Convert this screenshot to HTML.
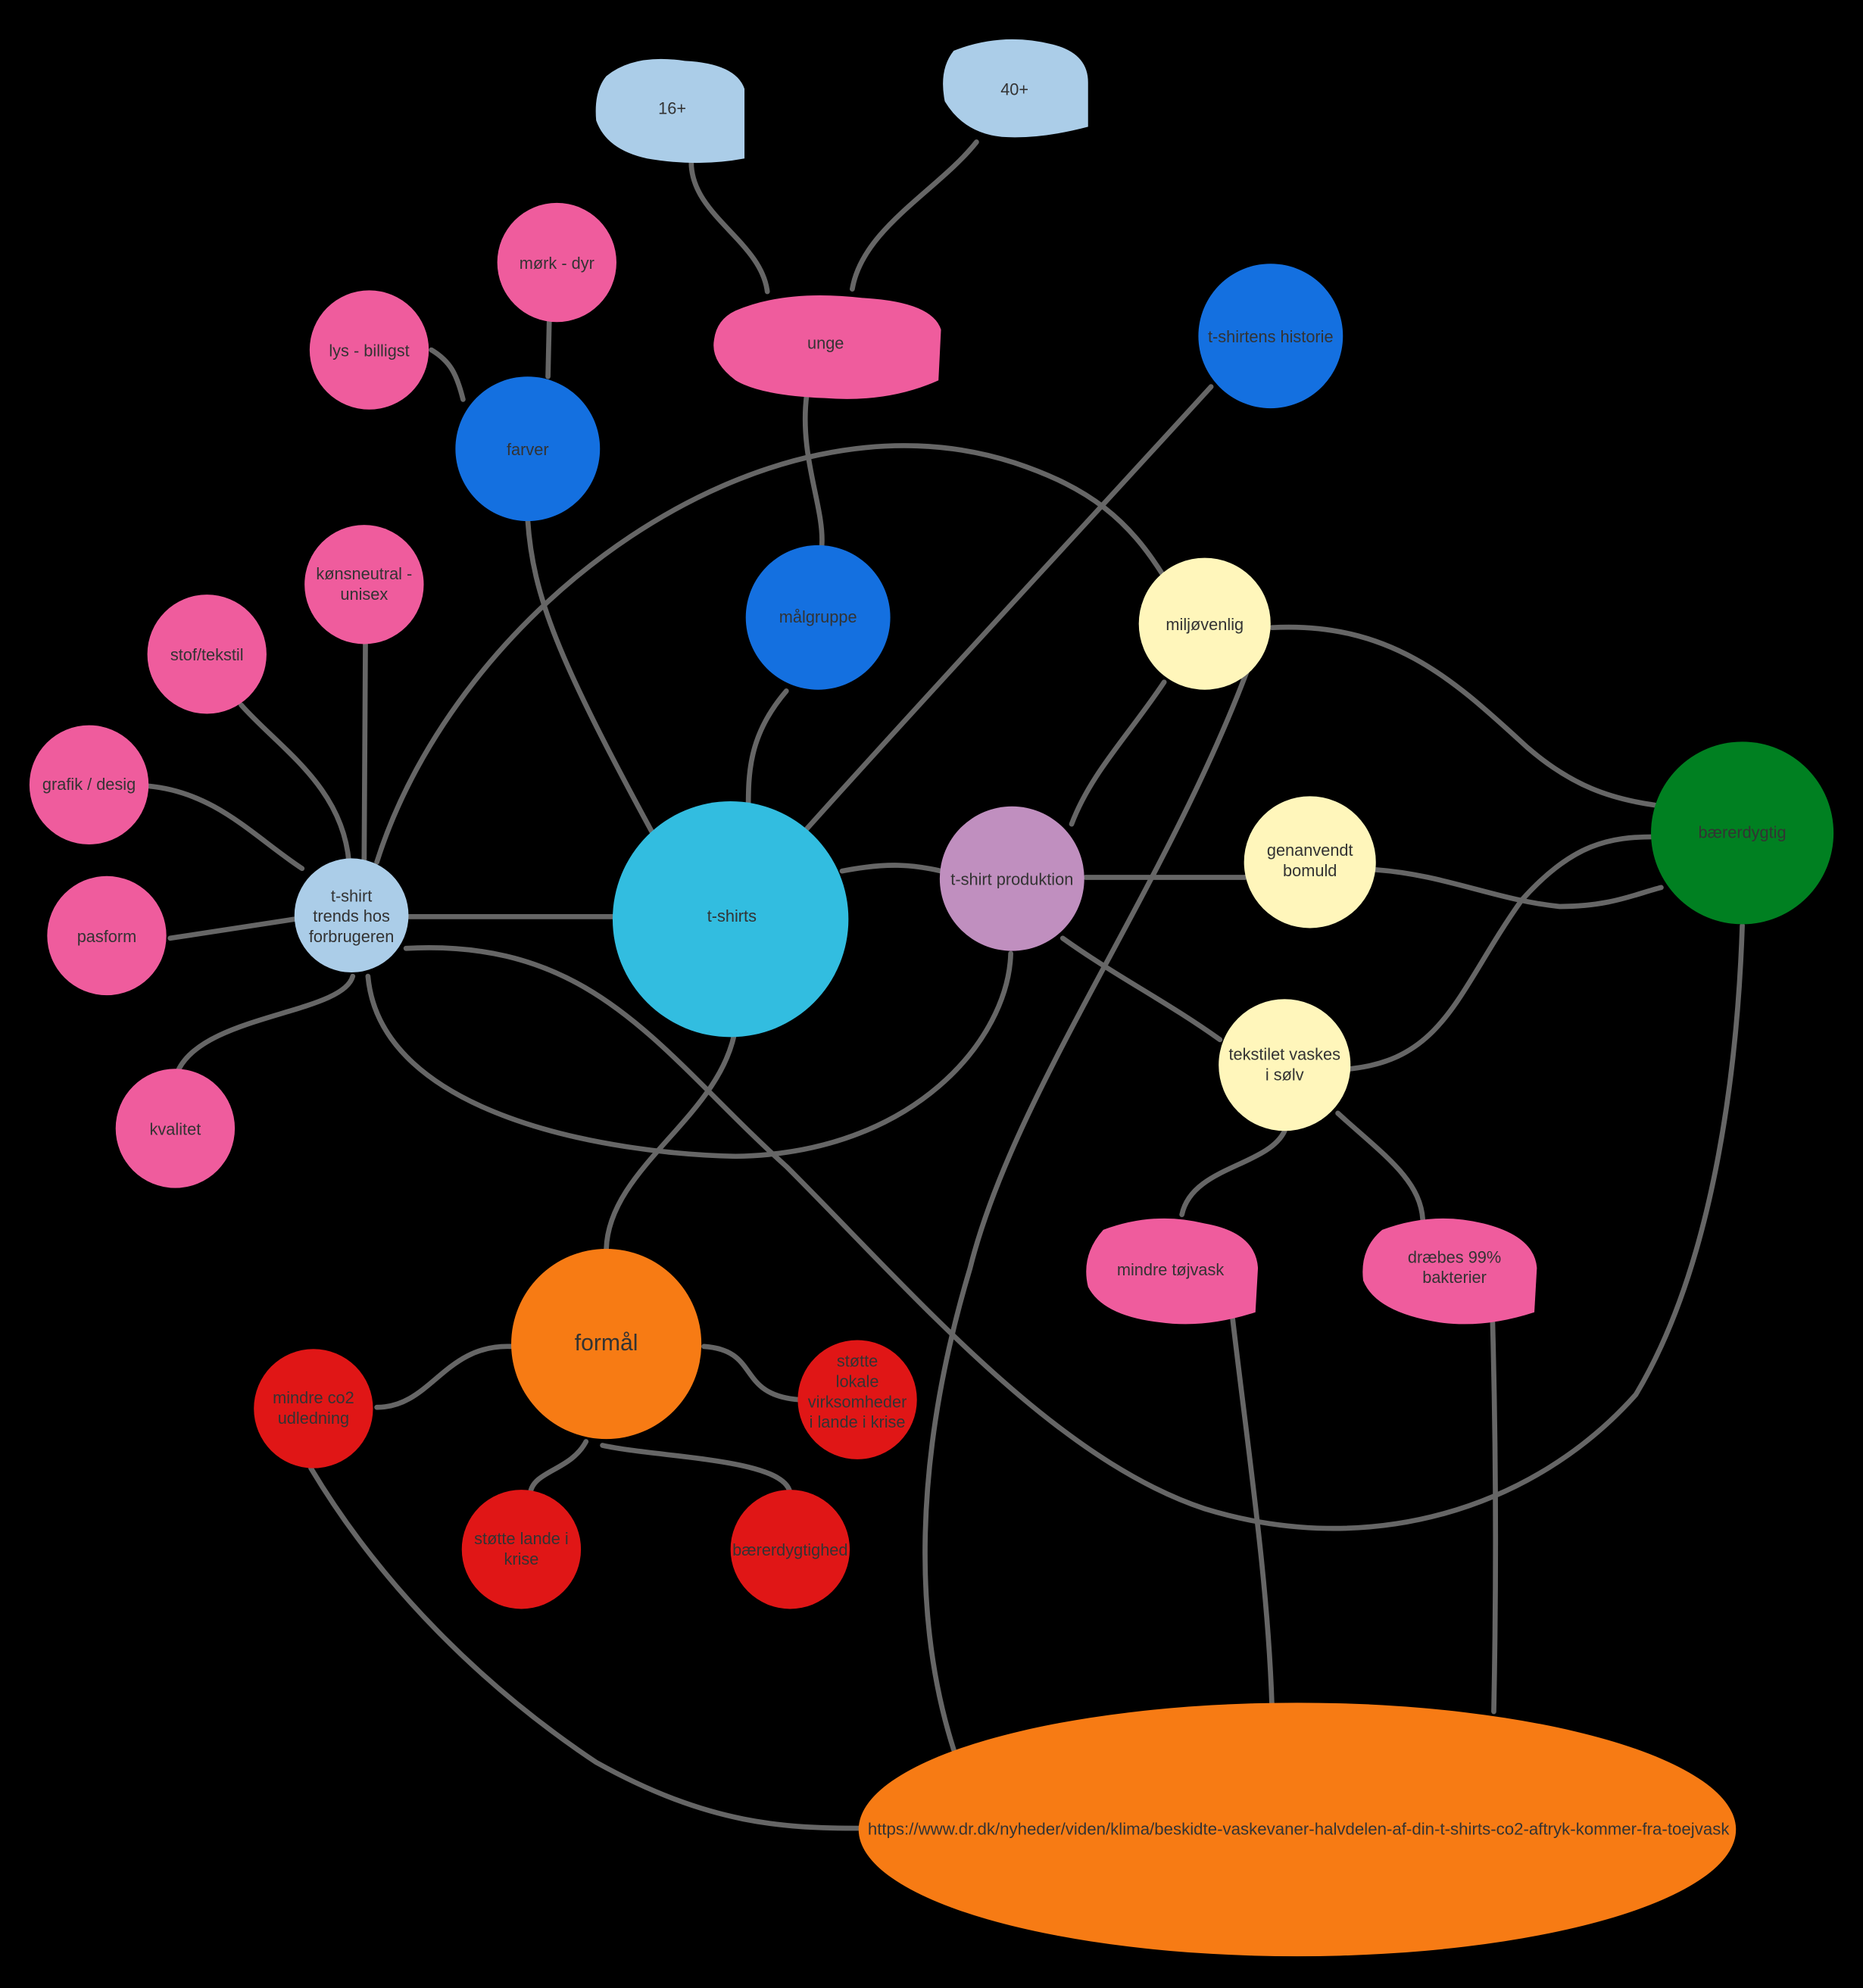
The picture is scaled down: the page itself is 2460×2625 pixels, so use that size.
<!DOCTYPE html>
<html><head><meta charset="utf-8"><style>
html,body{margin:0;padding:0;background:#000;}
svg{display:block}
text{font-family:"Liberation Sans",sans-serif;fill:#333;text-anchor:middle;font-size:13px}
</style></head><body>
<svg width="2460" height="2625" viewBox="0 0 1469 1568" xmlns="http://www.w3.org/2000/svg">
<rect width="1469" height="1568" fill="#000"/>
<g fill="none" stroke="#666" stroke-width="4" stroke-linecap="round">
<path d="M545 128 C545 170 600 190 605 230"/>
<path d="M770 112 C740 150 680 180 672 228"/>
<path d="M433 253 L432 297"/>
<path d="M340 276 C355 285 360 295 365 315"/>
<path d="M636 312 C630 360 650 400 648 430"/>
<path d="M416 410 C420 470 440 520 515 658"/>
<path d="M620 545 C590 580 590 610 590 640"/>
<path d="M955 305 C850 420 720 560 635 655"/>
<path d="M297 680 C360 480 600 300 800 365 C860 385 890 410 918 455"/>
<path d="M288 508 L287 678"/>
<path d="M190 556 C220 590 270 620 275 680"/>
<path d="M117 620 C170 625 200 660 238 685"/>
<path d="M134 740 L232 725"/>
<path d="M278 770 C270 800 160 800 140 845"/>
<path d="M322 723 L485 723"/>
<path d="M664 687 C700 680 720 682 742 687"/>
<path d="M856 692 L982 692"/>
<path d="M918 538 C890 580 860 610 845 650"/>
<path d="M838 740 C880 770 920 790 962 820"/>
<path d="M1003 495 C1100 490 1150 540 1205 590 C1240 620 1270 630 1305 635"/>
<path d="M1085 686 C1140 690 1180 710 1230 715 C1270 715 1290 705 1310 700"/>
<path d="M1065 843 C1140 835 1150 780 1200 710 C1240 665 1270 660 1305 660"/>
<path d="M290 770 C300 880 480 910 580 912 C720 910 795 820 797 752"/>
<path d="M580 810 C570 880 480 920 478 985"/>
<path d="M320 748 C470 740 520 830 620 920 C720 1020 830 1150 950 1190 C1080 1230 1210 1190 1290 1100 C1350 1000 1370 850 1374 730"/>
<path d="M985 525 C920 700 800 860 765 1000 C720 1150 720 1280 752 1380"/>
<path d="M1013 892 C1000 920 940 920 932 958"/>
<path d="M1055 878 C1090 910 1120 930 1122 962"/>
<path d="M972 1040 C985 1150 1000 1250 1003 1345"/>
<path d="M1177 1040 C1180 1150 1180 1250 1178 1350"/>
<path d="M403 1062 C350 1060 340 1110 297 1110"/>
<path d="M555 1062 C600 1065 580 1100 630 1104"/>
<path d="M462 1137 C450 1160 420 1160 418 1178"/>
<path d="M475 1140 C520 1150 620 1150 623 1178"/>
<path d="M245 1158 C300 1250 380 1330 470 1390 C560 1440 620 1442 680 1442"/>
</g>
<g fill="#abcde8">
<path d="M478 60 Q500 42 540 48 Q580 50 587 70 L587 125 Q550 132 510 125 Q478 118 470 95 Q468 72 478 60Z"/>
<path d="M752 40 Q790 25 830 35 Q858 42 858 65 L858 100 Q820 110 790 108 Q760 105 745 80 Q740 55 752 40Z"/>
</g>
<g fill="#ef5c9d">
<path d="M580 245 Q620 228 680 235 Q735 238 742 260 L740 300 Q700 318 650 314 Q600 312 580 300 Q560 285 563 268 Q565 252 580 245Z"/>
<path d="M870 970 Q910 955 950 965 Q990 972 992 1000 L990 1035 Q950 1048 915 1043 Q870 1038 858 1015 Q852 990 870 970Z"/>
<path d="M1090 970 Q1130 955 1170 965 Q1210 975 1212 1000 L1210 1035 Q1170 1048 1135 1043 Q1085 1035 1075 1010 Q1072 985 1090 970Z"/>
</g>
<g>
<circle cx="439" cy="207" r="47" fill="#ef5c9d"/>
<circle cx="291" cy="276" r="47" fill="#ef5c9d"/>
<circle cx="416" cy="354" r="57" fill="#1470e0"/>
<circle cx="1002" cy="265" r="57" fill="#1470e0"/>
<circle cx="645" cy="487" r="57" fill="#1470e0"/>
<circle cx="950" cy="492" r="52" fill="#fff6bb"/>
<circle cx="287" cy="461" r="47" fill="#ef5c9d"/>
<circle cx="163" cy="516" r="47" fill="#ef5c9d"/>
<circle cx="70" cy="619" r="47" fill="#ef5c9d"/>
<circle cx="84" cy="738" r="47" fill="#ef5c9d"/>
<circle cx="138" cy="890" r="47" fill="#ef5c9d"/>
<circle cx="277" cy="722" r="45" fill="#abcde8"/>
<circle cx="576" cy="725" r="93" fill="#32bde0"/>
<circle cx="798" cy="693" r="57" fill="#c08fbf"/>
<circle cx="1033" cy="680" r="52" fill="#fff6bb"/>
<circle cx="1374" cy="657" r="72" fill="#008021"/>
<circle cx="1013" cy="840" r="52" fill="#fff6bb"/>
<circle cx="478" cy="1060" r="75" fill="#f77b14"/>
<circle cx="247" cy="1111" r="47" fill="#e01616"/>
<circle cx="676" cy="1104" r="47" fill="#e01616"/>
<circle cx="411" cy="1222" r="47" fill="#e01616"/>
<circle cx="623" cy="1222" r="47" fill="#e01616"/>
<ellipse cx="1023" cy="1443" rx="346" ry="100" fill="#f77b14"/>
</g>
<g>
<text x="530" y="90">16+</text>
<text x="800" y="75">40+</text>
<text x="439" y="212">mørk - dyr</text>
<text x="291" y="281">lys - billigst</text>
<text x="416" y="359">farver</text>
<text x="651" y="275">unge</text>
<text x="1002" y="270">t-shirtens historie</text>
<text x="645" y="491">målgruppe</text>
<text x="950" y="497">miljøvenlig</text>
<text x="287" y="457">kønsneutral -</text><text x="287" y="473">unisex</text>
<text x="163" y="521">stof/tekstil</text>
<text x="70" y="623">grafik / desig</text>
<text x="84" y="743">pasform</text>
<text x="138" y="895">kvalitet</text>
<text x="277" y="711">t-shirt</text><text x="277" y="727">trends hos</text><text x="277" y="743">forbrugeren</text>
<text x="577" y="727">t-shirts</text>
<text x="798" y="698">t-shirt produktion</text>
<text x="1033" y="675">genanvendt</text><text x="1033" y="691">bomuld</text>
<text x="1374" y="661">bærerdygtig</text>
<text x="1013" y="836">tekstilet vaskes</text><text x="1013" y="852">i sølv</text>
<text x="923" y="1006">mindre tøjvask</text>
<text x="1147" y="996">dræbes 99%</text><text x="1147" y="1012">bakterier</text>
<text x="478" y="1065" style="font-size:18px">formål</text>
<text x="247" y="1107">mindre co2</text><text x="247" y="1123">udledning</text>
<text x="676" y="1078">støtte</text><text x="676" y="1094">lokale</text><text x="676" y="1110">virksomheder</text><text x="676" y="1126">i lande i krise</text>
<text x="411" y="1218">støtte lande i</text><text x="411" y="1234">krise</text>
<text x="623" y="1227">bærerdygtighed</text>
<text x="1024" y="1447" style="font-size:13.3px">https://www.dr.dk/nyheder/viden/klima/beskidte-vaskevaner-halvdelen-af-din-t-shirts-co2-aftryk-kommer-fra-toejvask</text>
</g>
</svg>
</body></html>
